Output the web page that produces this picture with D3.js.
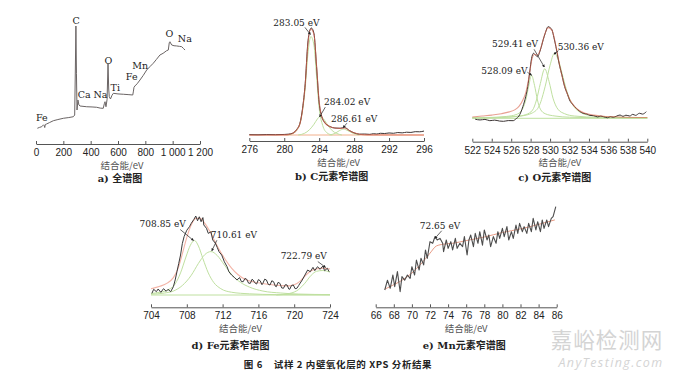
<!DOCTYPE html>
<html>
<head>
<meta charset="utf-8">
<script src="https://cdn.jsdelivr.net/npm/d3@7"></script>
<style>
body { margin:0; background:#fff; }
svg { display:block; }
</style>
</head>
<body>
<div id="chart-area"></div>
<script>
// ---------- data (binding energy eV, relative intensity) ----------
var surveyTicks = [0, 200, 400, 600, 800, 1000, 1200];
var surveyTickLabels = ["0", "200", "400", "600", "800", "1 000", "1 200"];
var survey = [[10,2.6],[25,3.4],[42,4.1],[55,5.9],[60,5.2],[64,3.3],[68,6.2],[78,6.7],[100,8.1],[127,9.8],[160,10.9],[200,12.1],
  [240,12.8],[273,13.6],[283,15.2],[288,60],[292,100],[296,55],[300,20],[307,29.5],[314,24.8],[322,23.8],[371,23.1],[410,22.9],
  [444,22.6],[470,21.8],[492,21.6],[500,26],[505,27.9],[512,23.1],[520,30],[527,64],[532,40],[536,32.7],[545,30.5],[556,34],
  [566,35.9],[600,35.3],[639,35],[680,34.6],[708,34.3],[713,38],[717,41.6],[724,42.9],[740,45],[761,48.6],[785,53],[810,58.1],
  [822,59.7],[835,61.5],[858,64.5],[880,68],[907,72.4],[930,74],[956,76.5],[968,77.1],[975,84],[980,85],[993,81.9],[1010,81.2],
  [1029,81],[1050,80.6],[1066,80.3],[1080,78.5],[1090,77.1]];
var surveyPeaks = [["Fe",42,10],["C",293,102],["Ca",352,31.5],["Na",472,31.5],["O",530,64],["Ti",580,38],
  ["Fe",700,48.5],["Mn",763,59],["O",976,89.5],["Na",1089,85]];

var cTicks = [276, 280, 284, 288, 292, 296];
var cRaw = [[276,0.3],[277,0.2],[278,0.4],[279,0.3],[280,0.5],[280.5,0.8],[281,1.8],[281.4,5],[281.8,11],[282.1,25],[282.4,48],
  [282.7,86],[282.9,97],[283.1,100],[283.4,95],[283.7,64],[284,30],[284.3,17],[284.6,12],[285.2,8],[285.8,6.5],[286.4,6.3],
  [286.9,7],[287.5,4],[288,2],[288.6,0.8],[289.2,0.9],[289.8,0.6],[290.2,1.2],[290.6,0.9],[291,1.6],[291.5,1.4],[292,1.9],
  [292.5,1.6],[293,2.3],[293.5,2],[294,2.6],[294.5,2.4],[295,3.1],[295.5,3],[296,3.7]];
var cFit = [[276,0],[280,0.1],[280.6,0.6],[281,1.6],[281.4,4.5],[281.8,10.5],[282.1,24],[282.4,47],[282.7,84],[283.05,99],
  [283.4,94],[283.7,65],[284,31],[284.3,17],[284.6,12],[285.2,8],[285.8,6.5],[286.4,6.2],[286.9,6.5],[287.5,4],[288,2],
  [288.6,0.7],[289.5,0.1],[296,0]];
var cPeak1 = [[280.4,0],[281,1.5],[281.5,5],[282,18],[282.4,44],[282.7,75],[283.05,92],[283.4,84],[283.7,55],[284,25],[284.4,9],[284.9,2],[285.5,0]];
var cPeak2 = [[281.6,0],[282.3,1.5],[282.9,5],[283.4,10],[283.8,15],[284.15,17.5],[284.5,15],[285,9],[285.5,4],[286,1.5],[286.6,0]];
var cPeak3 = [[285.2,0],[285.8,1.5],[286.3,4],[286.8,5.5],[287.3,4],[287.9,1.5],[288.6,0]];
var cBase = [[276,0],[296,0]];

var oTicks = [522, 524, 526, 528, 530, 532, 534, 536, 538, 540];
var oRaw = [[522.3,-1],[522.8,-1.8],[523.3,-1.2],[523.8,-2.6],[524.3,-2],[524.8,-3],[525.2,-3.3],[525.7,-2.5],[526.2,-2.6],
  [526.5,-0.5],[526.8,2.5],[527.2,12.7],[527.5,24],[527.7,34.5],[527.9,50],[528.1,65.5],[528.3,71],[528.5,69],[528.7,67.2],
  [529,74.6],[529.3,86],[529.5,92.8],[529.8,100],[530,99],[530.2,96.4],[530.4,88],[530.6,78.2],[530.8,67],[531,56.3],[531.2,48],
  [531.5,34.5],[531.8,26],[532,20],[532.3,15.5],[532.7,10.9],[533,8],[533.4,5.5],[533.8,4.6],[534.1,3.2],[534.5,2.8],[534.9,1.5],
  [535.2,2.4],[535.5,1.7],[535.9,0.6],[536.2,1.8],[536.5,1.1],[536.8,2.2],[537.2,3.6],[537.5,2.1],[537.8,3.4],[538.2,2.5],
  [538.5,4.3],[538.8,3.2],[539.2,5.5],[539.5,4.6],[539.9,7.2]];
var oFit = [[522,1.5],[523,2.5],[524,3.5],[525,5],[525.8,7],[526.4,9.5],[526.8,13],[527.2,20],[527.5,28],[527.8,43],[528.1,63],
  [528.4,70],[528.7,69],[529,75],[529.4,90],[529.8,99],[530.2,96],[530.6,79],[531,57],[531.5,35],[532,21],[532.5,13],[533,8.5],
  [533.6,5.5],[534.5,3.5],[535.5,2.3],[537,1.5],[540,0.8]];
var oPeak1 = [[522,0.5],[524,1],[525.5,2],[526.5,4],[527.1,9],[527.5,20],[527.8,35],[528.09,47],[528.4,36],[528.7,20],[529,10],
  [529.5,5],[530.5,2.5],[532,1.2],[536,0.5],[540,0.3]];
var oPeak2 = [[522,0.4],[525,1],[526.5,2],[527.5,4],[528.2,9],[528.6,20],[529,38],[529.45,54],[529.9,40],[530.3,22],[530.8,10],
  [531.5,5],[532.5,2.5],[535,1],[540,0.4]];
var oPeak3 = [[522,0.4],[525,1],[527,2.5],[528.2,6],[528.9,14],[529.5,35],[530,58],[530.45,71],[530.9,62],[531.4,42],[531.9,24],
  [532.5,12],[533.2,6],[534.2,3],[536,1.5],[540,0.6]];
var oBase = [[522,0],[540,0]];

var feTicks = [704, 708, 712, 716, 720, 724];
var feRaw = [[704.1,2.1],[704.3,7.2],[704.6,4.2],[704.8,7.6],[705.1,3.4],[705.4,8],[705.7,4.7],[705.9,7.2],[706.2,4.2],[706.5,10.5],
  [706.7,19],[706.9,29.5],[707.1,40],[707.3,50.6],[707.5,65],[707.7,74],[708,82],[708.3,86.5],[708.5,90.8],[708.8,95.8],[709,100],
  [709.2,94],[709.4,99],[709.6,92.8],[709.8,98],[709.9,88.6],[710.2,84.4],[710.4,78],[710.7,80],[710.9,69.6],[711.2,65.4],
  [711.4,60.3],[711.6,54.8],[711.9,50.6],[712.2,42],[712.5,35.8],[712.7,29.5],[713,25.3],[713.3,22.4],[713.6,19],[713.9,22],
  [714.1,17],[714.3,16.8],[714.5,21],[714.7,19.8],[714.9,15],[715.1,14.8],[715.3,20],[715.4,19],[715.6,15.5],[715.8,13.9],
  [716,19.5],[716.2,18],[716.4,13],[716.5,14.8],[716.7,20],[716.9,19],[717.1,13.5],[717.3,12.7],[717.5,18],[717.7,16.8],
  [717.9,11],[718,10.5],[718.2,16],[718.4,14.8],[718.6,9],[718.8,8.5],[719,13],[719.2,12.7],[719.4,7.5],[719.5,7.2],[719.7,12],
  [719.9,12.7],[720.1,8],[720.3,8.5],[720.5,12],[720.6,13.9],[720.9,19],[721.2,25.3],[721.5,31.6],[721.8,29.5],[722.1,35],
  [722.3,30.8],[722.6,35.8],[722.9,32.5],[723.2,36.7],[723.4,30.8],[723.7,33.8],[723.9,29.5]];
var feFit = [[704,8],[705,11],[705.8,15],[706.5,22],[707,33],[707.5,52],[708,73],[708.5,89],[709,97],[709.5,97],[710,91],[710.5,82],
  [711,71],[711.6,58],[712.3,45],[713,34],[713.7,26],[714.5,20],[715.5,16.5],[716.5,14.5],[717.5,13],[718.5,12],[719.3,11.5],
  [720,13],[720.6,17],[721.2,24],[721.8,30],[722.5,33],[723.2,34],[724,33]];
var fePeak1 = [[704,2],[705,3.5],[706,7],[706.7,14],[707.3,28],[707.9,48],[708.4,63],[708.85,69],[709.3,62],[709.8,46],[710.4,28],
  [711,16],[711.8,8],[713,3.5],[715,1.5],[718,0.5],[724,0.2]];
var fePeak2 = [[704,1],[705.5,2.5],[706.5,5],[707.5,12],[708.5,25],[709.3,40],[710,51],[710.7,55],[711.4,50],[712.2,38],[713,26],
  [714,16],[715,10],[716.5,5],[718.5,2.5],[720.5,1.2],[724,0.5]];
var fePeak3 = [[718,0],[719.5,2],[720.5,7],[721.2,15],[721.9,25],[722.5,30],[723.2,31],[724,29]];
var feBase = [[704,0],[724,0]];

var mnTicks = [66, 68, 70, 72, 74, 76, 78, 80, 82, 84, 86];
var mnRaw = [[67,11.1],[67.3,22],[67.6,13],[67.9,27.8],[68.1,14.8],[68.4,31.5],[68.7,9.2],[68.9,26],[69.2,22],[69.5,27.8],[69.8,24],
  [70,37],[70.3,27.8],[70.5,44.4],[70.8,33.3],[71,46.3],[71.3,39],[71.5,55.6],[71.7,46.3],[72,64.8],[72.3,63],[72.55,70.4],
  [72.8,66.7],[73.1,68.5],[73.4,63],[73.5,53.7],[73.8,66.7],[74,57.4],[74.3,64.8],[74.5,55.6],[74.8,68.5],[75,57.4],[75.3,63],
  [75.6,59.3],[75.8,70.4],[76.1,50],[76.3,66.7],[76.5,72.2],[76.8,59.3],[77,74],[77.3,63],[77.5,75.9],[77.8,61],[78,77.8],
  [78.3,66.7],[78.5,72.2],[78.7,59.3],[79,70.4],[79.3,63],[79.5,75.9],[79.7,68.5],[80,79.6],[80.2,70.4],[80.5,81.5],[80.7,66.7],
  [81,75.9],[81.2,68.5],[81.5,83.3],[81.7,74],[81.9,85.2],[82.2,75.9],[82.4,81.5],[82.7,74],[82.9,85.2],[83.2,75.9],[83.4,90.7],
  [83.7,77.8],[83.9,87],[84.2,75.9],[84.4,88.9],[84.6,79.6],[84.9,88.9],[85.1,81.5],[85.4,90.7],[85.6,92.6],[85.9,103.7]];
var mnFit = [[67,12],[68,17],[69,22.5],[70,30],[71,40],[72,52],[72.7,60],[73.5,62],[74.5,63],[76,66],[78,70],[80,75],[82,79],[84,84],[85.8,89]];

// ---------- colours ----------
var rawColor = "#3b3333", fitColor = "#d9604a", compColor = "#bfe0a0", orangeBase = "#f2b08c";

var svg = d3.select("#chart-area").append("svg")
    .attr("width", 680)
    .attr("height", 378);

var serif = '"DejaVu Serif", "Liberation Serif", serif';
var tickFont = '"Liberation Serif", serif';
var cjk = '"Noto Sans CJK SC", sans-serif';

svg.append("defs").append("marker")
    .attr("id", "arr")
    .attr("viewBox", "0 0 6 6")
    .attr("refX", 5).attr("refY", 3)
    .attr("markerWidth", 4).attr("markerHeight", 4)
    .attr("orient", "auto")
  .append("path")
    .attr("d", "M0,0L6,3L0,6Z")
    .attr("fill", "#222");

function panel(p) {
    var x = d3.scaleLinear().domain([p.ticks[0], p.ticks[p.ticks.length - 1]]).range(p.xRange);
    var y = d3.scaleLinear().domain([0, 100]).range(p.yRange);
    var g = svg.append("g");

    var axis = d3.axisBottom(x)
        .tickValues(p.ticks)
        .tickSizeInner(-3)
        .tickSizeOuter(0)
        .tickPadding(5)
        .tickFormat(function(d, i){ return p.tickLabels ? p.tickLabels[i] : d; });
    var ax = g.append("g")
        .attr("transform", "translate(0," + p.axisY + ")")
        .attr("font-family", tickFont)
        .attr("font-size", 10.5)
        .call(axis);
    ax.select(".domain").attr("stroke", "#555");
    ax.selectAll(".tick line").attr("stroke", "#555");
    ax.selectAll(".tick text").attr("fill", "#222");

    var line = d3.line()
        .x(function(d){ return x(d[0]); })
        .y(function(d){ return y(d[1]); });

    p.series.forEach(function(s){
        g.append("path")
            .datum(s.data)
            .attr("fill", "none")
            .attr("stroke", s.color)
            .attr("stroke-width", s.width || 1)
            .attr("stroke-opacity", s.opacity || 1)
            .attr("stroke-linejoin", "round")
            .attr("d", line.curve(s.smooth ? d3.curveMonotoneX : d3.curveLinear));
    });

    // peak notes with leader arrows
    (p.notes || []).forEach(function(n){
        var tx = x(n.at[0]), ty = y(n.at[1]);
        g.append("line")
            .attr("x1", tx + n.from[0]).attr("y1", ty + n.from[1])
            .attr("x2", tx).attr("y2", ty)
            .attr("stroke", "#222")
            .attr("stroke-width", 0.7)
            .attr("marker-end", "url(#arr)");
        g.append("text")
            .attr("x", tx + n.text[0]).attr("y", ty + n.text[1])
            .attr("text-anchor", "middle")
            .attr("font-family", serif)
            .attr("font-size", 9)
            .attr("fill", "#222")
            .text(n.label);
    });

    // element labels (survey)
    (p.elements || []).forEach(function(e){
        g.append("text")
            .attr("x", x(e[1])).attr("y", y(e[2]))
            .attr("text-anchor", "middle")
            .attr("font-family", serif)
            .attr("font-size", 9.5)
            .attr("fill", "#222")
            .text(e[0]);
    });

    var cx = (p.xRange[0] + p.xRange[1]) / 2;
    g.append("text")
        .attr("x", cx + (p.labelShift || 0)).attr("y", p.axisY + 24.5)
        .attr("text-anchor", "middle")
        .attr("font-family", cjk)
        .attr("font-size", 9.5)
        .attr("fill", "#555")
        .text("结合能/eV");

    var t = g.append("text")
        .attr("x", cx + (p.titleShift || 0)).attr("y", p.titleY)
        .attr("text-anchor", "middle")
        .attr("font-size", 10)
        .attr("font-weight", "bold")
        .attr("fill", "#222");
    t.append("tspan").attr("font-family", serif).text(p.titleA);
    t.append("tspan").attr("font-family", cjk).text(p.titleB);
}

panel({
    ticks: surveyTicks, tickLabels: surveyTickLabels,
    xRange: [36, 200], yRange: [131, 26], axisY: 144, titleY: 182, titleShift: 2, labelShift: 4,
    series: [{ data: survey, color: "#6a6464", width: 1 }],
    elements: surveyPeaks,
    titleA: "a) ", titleB: "全谱图"
});

panel({
    ticks: cTicks,
    xRange: [249.3, 424], yRange: [135, 28], axisY: 141, titleY: 179.5, titleShift: -5, labelShift: 2,
    series: [
        { data: cBase, color: orangeBase, width: 1 },
        { data: cPeak1, color: compColor, smooth: true },
        { data: cPeak2, color: compColor, smooth: true },
        { data: cPeak3, color: compColor, smooth: true },
        { data: cRaw, color: rawColor, width: 1, smooth: true },
        { data: cFit, color: fitColor, width: 1.1, opacity: 0.7, smooth: true }
    ],
    notes: [
        { label: "283.05 eV", at: [283.0, 94], from: [-5.5, -7], text: [-14, -8.5] },
        { label: "284.02 eV", at: [284.05, 17], from: [5.7, -9.7], text: [27.5, -12.2] },
        { label: "286.61 eV", at: [286.75, 7], from: [3.7, -4.3], text: [11, -5.3] }
    ],
    titleA: "b) C", titleB: "元素窄谱图"
});

panel({
    ticks: oTicks,
    xRange: [472.3, 647.3], yRange: [118.3, 26.7], axisY: 141.7, titleY: 180.8, titleShift: -5,
    series: [
        { data: oBase, color: compColor, width: 1 },
        { data: oPeak1, color: compColor, smooth: true },
        { data: oPeak2, color: compColor, smooth: true },
        { data: oPeak3, color: compColor, smooth: true },
        { data: oRaw, color: rawColor, width: 1, smooth: true },
        { data: oFit, color: fitColor, width: 1.1, opacity: 0.6, smooth: true }
    ],
    notes: [
        { label: "530.36 eV", at: [530.4, 70], from: [4.5, -3.5], text: [26.8, -4.5] },
        { label: "529.41 eV", at: [529.41, 56], from: [-10.3, -17.7], text: [-29.3, -19.9] },
        { label: "528.09 eV", at: [528.1, 47], from: [-4.2, -3], text: [-27.2, -1.5] }
    ],
    titleA: "c) O", titleB: "元素窄谱图"
});

panel({
    ticks: feTicks,
    xRange: [151, 330], yRange: [295, 216], axisY: 307.3, titleY: 348.5, titleShift: -10,
    series: [
        { data: feBase, color: compColor, width: 1 },
        { data: fePeak1, color: compColor, smooth: true },
        { data: fePeak2, color: compColor, smooth: true },
        { data: fePeak3, color: compColor, smooth: true },
        { data: feFit, color: "#f0a090", width: 1.1, opacity: 0.8, smooth: true },
        { data: feRaw, color: "#3a3a3a", width: 1 }
    ],
    notes: [
        { label: "708.85 eV", at: [708.75, 69], from: [-13.3, -11], text: [-30.8, -13] },
        { label: "710.61 eV", at: [710.8, 56], from: [5, -10.5], text: [22.1, -12.5] },
        { label: "722.79 eV", at: [723.5, 35], from: [-7.7, -5.8], text: [-21.8, -8.5] }
    ],
    titleA: "d) Fe", titleB: "元素窄谱图"
});

panel({
    ticks: mnTicks,
    xRange: [375.7, 556.7], yRange: [300, 210], axisY: 307.3, titleY: 348.5, titleShift: -2,
    series: [
        { data: mnFit, color: "#e89a84", width: 1, smooth: true },
        { data: mnRaw, color: "#4d4d4d", width: 1.1 }
    ],
    notes: [
        { label: "72.65 eV", at: [72.55, 68.5], from: [6.7, -7.6], text: [5, -9.8] }
    ],
    titleA: "e) Mn", titleB: "元素窄谱图"
});

// figure caption
svg.append("text")
    .attr("x", 338).attr("y", 367.5)
    .attr("text-anchor", "middle")
    .attr("font-family", cjk)
    .attr("font-size", 9.5)
    .attr("font-weight", "bold")
    .attr("letter-spacing", 0.6)
    .attr("fill", "#222")
    .attr("xml:space", "preserve")
    .text("图 6    试样 2 内壁氧化层的 XPS 分析结果");

// watermark
svg.append("text")
    .attr("x", 607).attr("y", 347.5)
    .attr("text-anchor", "middle")
    .attr("font-family", cjk)
    .attr("font-size", 21.5)
    .attr("letter-spacing", 1)
    .attr("fill", "#d4d4d4")
    .text("嘉峪检测网");
svg.append("text")
    .attr("x", 611).attr("y", 367)
    .attr("text-anchor", "middle")
    .attr("font-family", '"Open Sans", sans-serif')
    .attr("font-style", "italic")
    .attr("font-size", 12.5)
    .attr("letter-spacing", 1.4)
    .attr("fill", "#d4d4d4")
    .text("AnyTesting.com");
</script>
</body>
</html>
